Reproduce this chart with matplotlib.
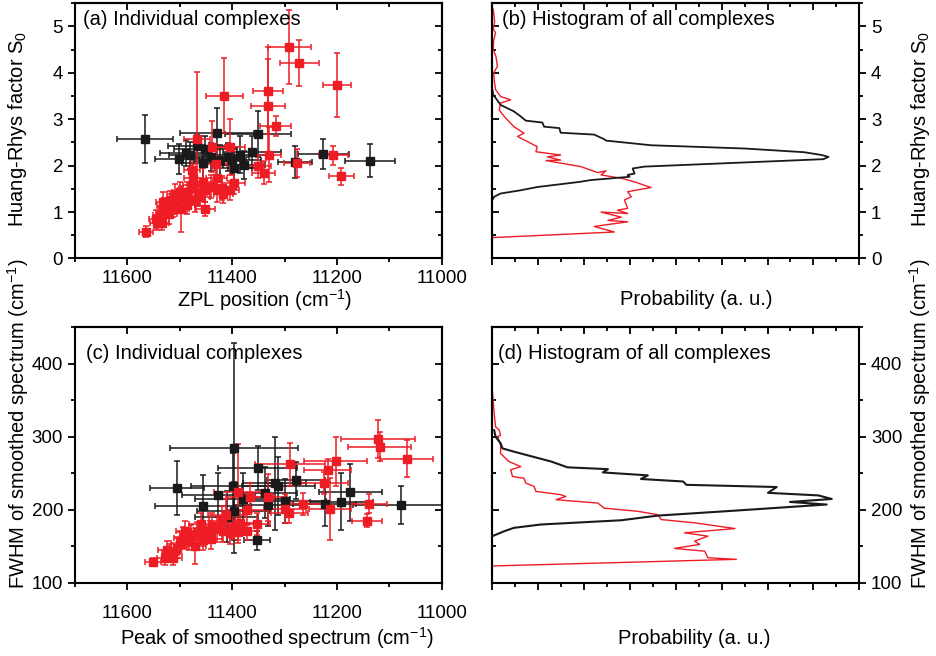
import numpy as np
import matplotlib.pyplot as plt
from matplotlib.ticker import MultipleLocator, NullFormatter

# ##############################################################################
# data

# (a) ZPL position vs Huang-Rhys factor, black set
zpl_blk_x = [11566, 11429, 11350, 11467, 11451, 11488, 11502, 11362, 11407, 11423,
             11397, 11378, 11280, 11226, 11137, 11440, 11385, 11480, 11400, 11455]
zpl_blk_y = [2.57, 2.70, 2.68, 2.42, 2.35, 2.28, 2.14, 2.30, 2.19, 2.10,
             1.94, 2.01, 2.08, 2.25, 2.11, 2.18, 2.24, 2.22, 2.12, 2.05]
zpl_blk_xerr = [54, 70, 63, 55, 60, 50, 45, 55, 40, 50,
                35, 40, 32, 49, 48, 45, 60, 40, 55, 40]
zpl_blk_yerr = [0.52, 0.55, 0.50, 0.25, 0.30, 0.28, 0.33, 0.35, 0.30, 0.35,
                0.45, 0.30, 0.35, 0.32, 0.36, 0.30, 0.40, 0.30, 0.30, 0.40]

# (a) red set
zpl_red_x = [11291, 11272, 11200, 11415, 11331, 11332, 11317, 11467, 11439, 11404,
             11330, 11431, 11350, 11340, 11276, 11207, 11192, 11429, 11397, 11474,
             11429, 11417, 11404, 11451, 11451, 11477, 11486, 11499, 11509, 11518,
             11531, 11526, 11512, 11498, 11537, 11543, 11534, 11564, 11461, 11470,
             11477, 11490, 11505, 11440, 11520, 11487, 11455, 11545, 11465, 11420,
             11500, 11530]
zpl_red_y = [4.55, 4.21, 3.74, 3.51, 3.62, 3.29, 2.86, 2.57, 2.41, 2.40,
             2.24, 2.03, 1.99, 1.85, 2.06, 2.22, 1.77, 1.73, 1.63, 1.73,
             1.47, 1.39, 1.47, 1.47, 1.07, 1.58, 1.44, 1.44, 1.40, 1.26,
             1.22, 1.07, 1.07, 1.07, 0.93, 0.76, 0.76, 0.58, 1.33, 1.26,
             1.90, 1.30, 1.20, 1.55, 0.95, 1.15, 1.65, 0.85, 1.42, 1.52,
             1.32, 1.12]
zpl_red_xerr = [41, 37, 27, 35, 29, 32, 30, 25, 25, 28,
                24, 22, 25, 22, 25, 28, 24, 20, 22, 18,
                20, 18, 18, 20, 18, 16, 18, 15, 16, 16,
                14, 14, 16, 15, 14, 14, 14, 13, 18, 18,
                15, 15, 15, 20, 14, 16, 18, 14, 18, 20,
                15, 14]
zpl_red_yerr = [0.80, 0.50, 0.69, 0.80, 0.93, 1.00, 0.22, 1.45, 0.55, 0.60,
                0.60, 0.30, 0.25, 0.25, 0.30, 0.20, 0.18, 0.35, 0.25, 0.30,
                0.25, 0.20, 0.20, 0.25, 0.15, 0.25, 0.20, 0.20, 0.20, 0.20,
                0.22, 0.20, 0.18, 0.50, 0.18, 0.15, 0.15, 0.11, 0.20, 0.25,
                0.25, 0.20, 0.20, 0.25, 0.20, 0.20, 0.30, 0.20, 0.22, 0.25,
                0.20, 0.18]

# (c) peak of smoothed spectrum vs FWHM, black set
pk_blk_x = [11397, 11505, 11456, 11426, 11399, 11351, 11319, 11312, 11278, 11337,
            11331, 11353, 11223, 11192, 11175, 11077, 11397, 11380, 11300, 11410]
pk_blk_y = [284, 230, 205, 220, 233, 257, 236, 232, 240, 223,
            207, 158, 208, 211, 224, 206, 198, 215, 212, 190]
pk_blk_xerr = [122, 51, 92, 70, 80, 75, 60, 70, 55, 60,
               65, 25, 60, 60, 60, 92, 70, 90, 80, 60]
pk_blk_yerr = [144, 37, 42, 30, 45, 30, 64, 40, 25, 35,
               30, 13, 30, 39, 39, 26, 40, 35, 30, 35]

# (c) red set
pk_red_x = [11122, 11118, 11067, 11202, 11218, 11224, 11289, 11264, 11291, 11300,
            11213, 11138, 11143, 11331, 11366, 11389, 11372, 11411, 11385, 11352,
            11429, 11442, 11455, 11467, 11417, 11404, 11388, 11372, 11483, 11499,
            11470, 11505, 11518, 11528, 11512, 11551, 11493, 11439, 11420, 11460,
            11490, 11525, 11440, 11400, 11478, 11455]
pk_red_y = [297, 286, 270, 266, 254, 236, 262, 208, 196, 201,
            201, 208, 185, 217, 217, 224, 199, 193, 182, 180,
            173, 170, 168, 168, 170, 168, 169, 170, 159, 154,
            150, 148, 141, 134, 134, 128, 161, 177, 185, 180,
            170, 145, 160, 175, 165, 158]
pk_red_xerr = [71, 60, 51, 60, 45, 45, 67, 40, 35, 40,
               40, 33, 29, 35, 45, 45, 40, 35, 30, 25,
               25, 22, 22, 20, 22, 20, 22, 22, 18, 18,
               20, 18, 16, 16, 16, 15, 18, 25, 25, 22,
               18, 16, 20, 25, 18, 20]
pk_red_yerr = [26, 20, 25, 33, 16, 15, 30, 15, 15, 20,
               43, 13, 9, 32, 20, 66, 20, 22, 18, 15,
               18, 15, 15, 15, 15, 15, 15, 12, 15, 15,
               25, 14, 12, 10, 10, 6, 15, 18, 20, 16,
               14, 12, 14, 15, 14, 14]

# (b) histograms of Huang-Rhys factor (probability, S0)
hr_blk_p = [0.00, 0.02, 0.18, 0.47, 0.62, 0.73, 1.09, 1.13, 1.46, 1.49, 2.22, 2.44,
            2.48, 3.46, 5.50, 6.80, 7.18, 7.33, 7.22, 3.32, 3.06, 3.10, 2.95, 2.99,
            2.15, 1.90, 0.98, 0.62, 0.18, 0.04, 0.00]
hr_blk_s = [3.64, 3.53, 3.31, 3.17, 3.06, 2.97, 2.93, 2.84, 2.81, 2.71, 2.67, 2.57,
            2.54, 2.44, 2.37, 2.29, 2.23, 2.19, 2.14, 1.98, 1.94, 1.83, 1.80, 1.76,
            1.69, 1.65, 1.54, 1.47, 1.40, 1.33, 1.26]
hr_red_p = [0.02, 0.05, 0.02, 0.07, 0.03, 0.02, 0.08, 0.11, 0.03, 0.04, 0.07, 0.18,
            0.40, 0.18, 0.15, 0.26, 0.47, 0.69, 0.55, 0.84, 0.98, 0.95, 1.49, 1.20,
            1.49, 1.17, 1.93, 2.30, 2.48, 2.37, 2.81, 3.10, 3.46, 2.95, 3.03, 2.88,
            2.95, 2.73, 2.95, 2.37, 2.81, 2.52, 2.95, 2.22, 2.66, 0.00]
hr_red_s = [5.37, 5.10, 4.95, 4.86, 4.70, 4.50, 4.35, 4.14, 4.00, 3.85, 3.64, 3.49,
            3.42, 3.35, 3.20, 3.06, 2.84, 2.70, 2.63, 2.48, 2.41, 2.30, 2.23, 2.19,
            2.12, 2.11, 1.98, 1.85, 1.89, 1.80, 1.73, 1.65, 1.53, 1.44, 1.33, 1.26,
            1.08, 1.04, 0.97, 1.00, 0.89, 0.82, 0.79, 0.69, 0.57, 0.45]

# (d) histograms of FWHM (probability, cm-1)
fw_blk_p = [0.04, 0.07, 0.18, 0.22, 0.47, 1.28, 1.64, 2.52, 2.41, 3.39, 3.24, 4.16,
            4.23, 6.20, 6.01, 7.11, 7.40, 6.49, 7.29, 5.29, 3.61, 2.81, 1.06, 0.47,
            0.26, 0.00]
fw_blk_w = [309, 300, 291, 284, 279.5, 266, 258, 255.5, 251, 247, 242, 238.6,
            234, 231, 223, 219.5, 214.6, 210.5, 207, 198.6, 191.8, 185.4, 179.6, 175,
            170.4, 163.6]
fw_red_p = [0.00, 0.04, 0.07, 0.15, 0.18, 0.11, 0.18, 0.18, 0.36, 0.62, 0.40, 0.44,
            0.69, 0.73, 0.91, 0.95, 1.49, 1.60, 1.39, 2.30, 2.44, 3.17, 3.61, 3.68,
            4.41, 5.29, 4.19, 4.70, 4.41, 4.52, 3.97, 4.63, 4.70, 5.32, 0.00]
fw_red_w = [363.7, 331.9, 313.7, 309, 302, 300, 288.7, 277, 266, 259, 254.6, 245.4,
            243, 236.4, 231.8, 225, 220.5, 218, 213.6, 209, 202, 197.7, 193, 186.4,
            181.9, 174, 168.2, 163.6, 156.8, 152.3, 146.8, 143, 134, 131.8, 122.7]

# ##############################################################################
RED = '#ee1c25'
BLK = '#1a1a1a'
FONT = 'Liberation Sans'

plt.rcParams['font.family'] = [FONT, 'DejaVu Sans']
plt.rcParams['mathtext.fontset'] = 'custom'
plt.rcParams['mathtext.rm'] = FONT
plt.rcParams['mathtext.it'] = FONT + ':italic'
plt.rcParams['axes.linewidth'] = 1.5


def scatterPanel(ax, xs, ys, xe, ye, color):
    ax.errorbar(xs, ys, xerr=xe, yerr=ye, fmt='s', color=color, ms=5.5,
                mec=color, mfc=color, elinewidth=1.1, capsize=2.5,
                capthick=1.1)


def styleTicks(ax, xmaj, xmin, ymaj, ymin, label_side):
    ax.xaxis.set_major_locator(MultipleLocator(xmaj))
    ax.xaxis.set_minor_locator(MultipleLocator(xmin))
    ax.yaxis.set_major_locator(MultipleLocator(ymaj))
    ax.yaxis.set_minor_locator(MultipleLocator(ymin))
    ax.tick_params(which='major', direction='out', length=5, width=1.3,
                   labelsize=13.5)
    ax.tick_params(which='minor', direction='out', length=3, width=1.3)
    if label_side == 'right':
        ax.yaxis.tick_right()
        mirror_y = ax.secondary_yaxis('left')
    else:
        mirror_y = ax.secondary_yaxis('right')
    mirror_x = ax.secondary_xaxis('top')

    # mirrored ticks point inwards, no labels
    mirror_x.xaxis.set_major_locator(MultipleLocator(xmaj))
    mirror_x.xaxis.set_minor_locator(MultipleLocator(xmin))
    mirror_y.yaxis.set_major_locator(MultipleLocator(ymaj))
    mirror_y.yaxis.set_minor_locator(MultipleLocator(ymin))
    for m in (mirror_x, mirror_y):
        m.tick_params(which='major', direction='in', length=5, width=1.3)
        m.tick_params(which='minor', direction='in', length=3, width=1.3)
    mirror_x.xaxis.set_major_formatter(NullFormatter())
    mirror_y.yaxis.set_major_formatter(NullFormatter())


fig = plt.figure(figsize=(9.36, 6.56), dpi=100)

# panel geometry (figure fractions)
lx, rx, w = 0.080, 0.526, 0.392
ty, by, h = 0.606, 0.112, 0.389

# (a) ##########################################################################
ax_a = fig.add_axes([lx, ty, w, h])
scatterPanel(ax_a, zpl_blk_x, zpl_blk_y, zpl_blk_xerr, zpl_blk_yerr, BLK)
scatterPanel(ax_a, zpl_red_x, zpl_red_y, zpl_red_xerr, zpl_red_yerr, RED)
ax_a.set_xlim(11700, 11000)
ax_a.set_ylim(0, 5.5)
styleTicks(ax_a, 200, 100, 1, 0.5, 'left')
ax_a.tick_params(axis='x', pad=3)
ax_a.text(0.022, 0.975, '(a) Individual complexes', transform=ax_a.transAxes,
          ha='left', va='top', fontsize=14.5)

# (b) ##########################################################################
ax_b = fig.add_axes([rx, ty, w, h])
ax_b.plot(hr_red_p, hr_red_s, color=RED, lw=1.0)
ax_b.plot(hr_blk_p, hr_blk_s, color=BLK, lw=1.3)
ax_b.set_xlim(0, 8)
ax_b.set_ylim(0, 5.5)
styleTicks(ax_b, 1, 0.5, 1, 0.5, 'right')
ax_b.xaxis.set_major_formatter(NullFormatter())
ax_b.text(0.027, 0.975, '(b) Histogram of all complexes', transform=ax_b.transAxes,
          ha='left', va='top', fontsize=14.5)

# (c) ##########################################################################
ax_c = fig.add_axes([lx, by, w, h])
scatterPanel(ax_c, pk_blk_x, pk_blk_y, pk_blk_xerr, pk_blk_yerr, BLK)
scatterPanel(ax_c, pk_red_x, pk_red_y, pk_red_xerr, pk_red_yerr, RED)
ax_c.set_xlim(11700, 11000)
ax_c.set_ylim(100, 450)
styleTicks(ax_c, 200, 100, 100, 50, 'left')
ax_c.tick_params(axis='x', pad=11)
ax_c.text(0.03, 0.935, '(c) Individual complexes', transform=ax_c.transAxes,
          ha='left', va='top', fontsize=14.5)

# (d) ##########################################################################
ax_d = fig.add_axes([rx, by, w, h])
ax_d.plot(fw_red_p, fw_red_w, color=RED, lw=1.0)
ax_d.plot(fw_blk_p, fw_blk_w, color=BLK, lw=1.5)
ax_d.set_xlim(0, 8)
ax_d.set_ylim(100, 450)
styleTicks(ax_d, 1, 0.5, 100, 50, 'right')
ax_d.xaxis.set_major_formatter(NullFormatter())
ax_d.text(0.016, 0.935, '(d) Histogram of all complexes', transform=ax_d.transAxes,
          ha='left', va='top', fontsize=14.5)

# axis labels placed by hand #################################################
lab = dict(fontsize=14.5, ha='center', va='center')
fig.text(0.019, 0.803, 'Huang-Rhys factor S$_0$', rotation=90, **lab)
fig.text(0.983, 0.803, 'Huang-Rhys factor S$_0$', rotation=90, **lab)
fig.text(0.019, 0.354, 'FWHM of smoothed spectrum (cm$^{-1}$)', rotation=90, **lab)
fig.text(0.983, 0.354, 'FWHM of smoothed spectrum (cm$^{-1}$)', rotation=90, **lab)
fig.text(0.283, 0.543, 'ZPL position (cm$^{-1}$)', **lab)
fig.text(0.744, 0.543, 'Probability (a. u.)', **lab)
fig.text(0.296, 0.027, 'Peak of smoothed spectrum (cm$^{-1}$)', **lab)
fig.text(0.742, 0.027, 'Probability (a. u.)', **lab)

plt.savefig('out.png', dpi=100)
